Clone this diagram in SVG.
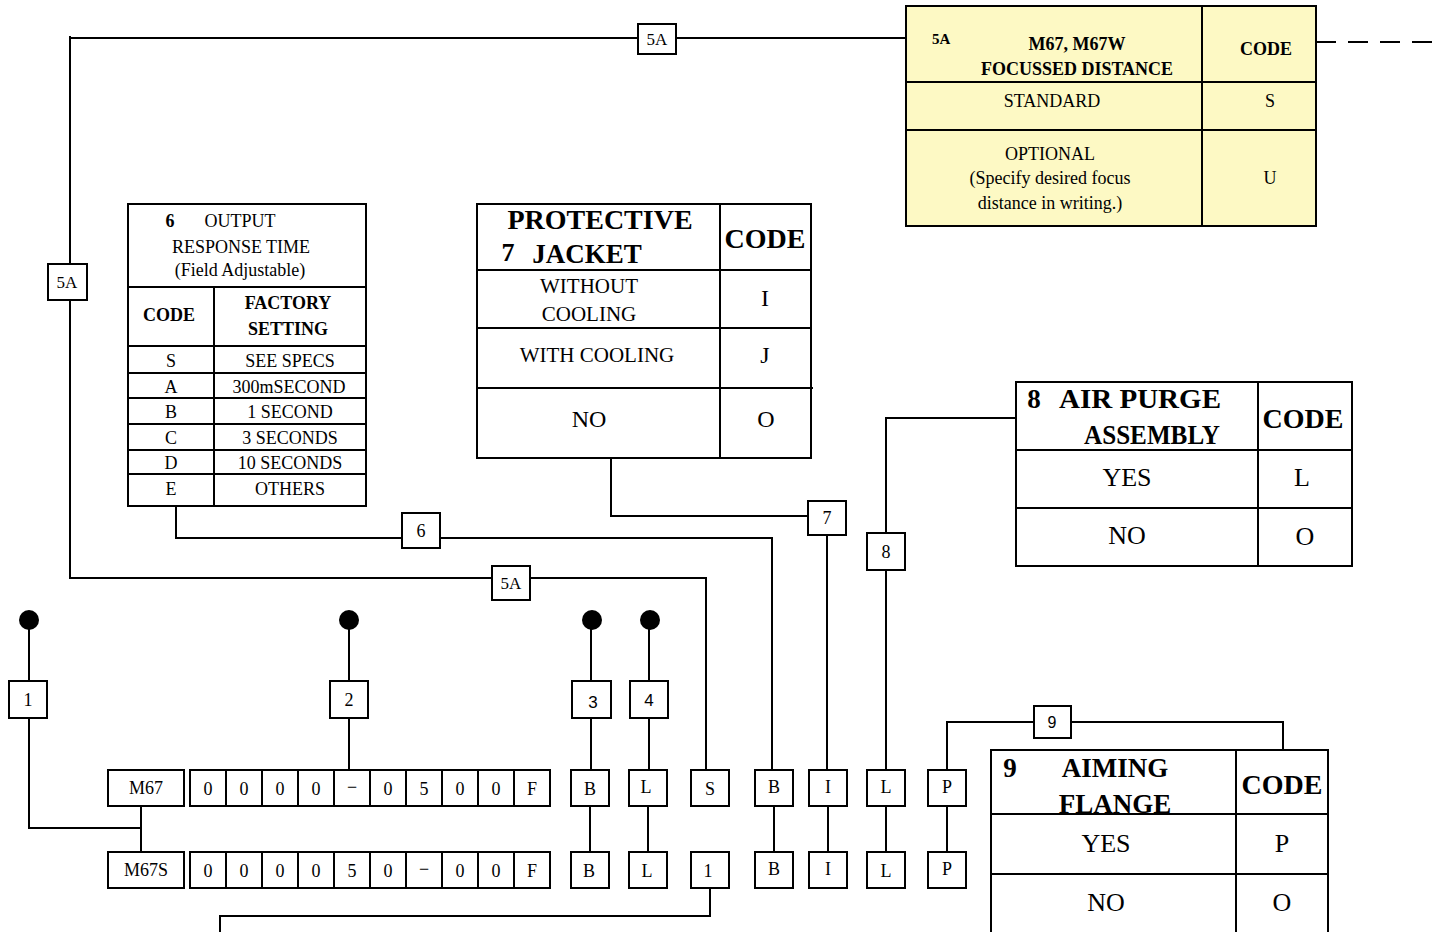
<svg xmlns="http://www.w3.org/2000/svg" width="1444" height="932" viewBox="0 0 1444 932">
<style>
.ln{fill:none;stroke:#000;stroke-width:2}
.bx{fill:#fff;stroke:#000;stroke-width:2}
.tb{fill:#fff;stroke:#000;stroke-width:2}
.yl{fill:#FDF9C4;stroke:#000;stroke-width:2}
.t{font-family:"Liberation Serif","Times New Roman",serif;fill:#000;text-anchor:middle}
.s{font-family:"Liberation Sans",Arial,sans-serif;fill:#000;text-anchor:middle}
.b{font-weight:bold}
.dot{fill:#000}
</style>
<rect width="1444" height="932" fill="#fff"/>
<g id="connectors" class="ln">
<path d="M70 36 V578 H706 V770"/>
<path d="M70 38 H906"/>
<path d="M1316 42 H1444" stroke-dasharray="20 12"/>
<path d="M176 506 V538 H772 V770"/>
<path d="M611 458 V516 H827 V770"/>
<path d="M1016 418 H886 V770"/>
<path d="M29 620 V828 H141"/>
<path d="M141 806 V852"/>
<path d="M349 620 V770"/>
<path d="M591 620 V770"/>
<path d="M649 620 V770"/>
<path d="M590 806 V852 M648 806 V852 M774 806 V852 M828 806 V852 M886 806 V852 M947 806 V852"/>
<path d="M710 888 V916 H220 V932"/>
<path d="M947 770 V722 H1283 V750"/>
</g>
<g id="dots">
<circle class="dot" cx="29" cy="620" r="10"/>
<circle class="dot" cx="349" cy="620" r="10"/>
<circle class="dot" cx="592" cy="620" r="10"/>
<circle class="dot" cx="650" cy="620" r="10"/>
</g>
<g id="table-5A">
<rect class="yl" x="906" y="6" width="410" height="220"/>
<path class="ln" d="M906 82 H1316 M906 130 H1316 M1202 6 V226"/>
<text class="t b" x="932" y="44" font-size="15" style="text-anchor:start">5A</text>
<text class="t b" x="1077" y="50" font-size="18">M67, M67W</text>
<text class="t b" x="1077" y="75" font-size="18">FOCUSSED DISTANCE</text>
<text class="t b" x="1266" y="55" font-size="18">CODE</text>
<text class="t" x="1052" y="107" font-size="18">STANDARD</text>
<text class="t" x="1270" y="107" font-size="18">S</text>
<text class="t" x="1050" y="160" font-size="18">OPTIONAL</text>
<text class="t" x="1050" y="184" font-size="18">(Specify desired focus</text>
<text class="t" x="1050" y="209" font-size="18">distance in writing.)</text>
<text class="t" x="1270" y="184" font-size="18">U</text>
</g>
<g id="table-6">
<rect class="tb" x="128" y="204" width="238" height="302"/>
<path class="ln" d="M128 287 H366 M214 287 V506 M128 346 H366 M128 373 H366 M128 398 H366 M128 424 H366 M128 450 H366 M128 474 H366"/>
<text class="t b" x="170" y="227" font-size="18">6</text>
<text class="t" x="240" y="227" font-size="18">OUTPUT</text>
<text class="t" x="241" y="253" font-size="18">RESPONSE TIME</text>
<text class="t" x="240" y="276" font-size="18">(Field Adjustable)</text>
<text class="t b" x="169" y="321" font-size="18">CODE</text>
<text class="t b" x="288" y="309" font-size="18">FACTORY</text>
<text class="t b" x="288" y="335" font-size="18">SETTING</text>
<text class="t" x="171" y="367" font-size="18">S</text><text class="t" x="290" y="367" font-size="18">SEE SPECS</text>
<text class="t" x="171" y="393" font-size="18">A</text><text class="t" x="289" y="393" font-size="18">300mSECOND</text>
<text class="t" x="171" y="418" font-size="18">B</text><text class="t" x="290" y="418" font-size="18">1 SECOND</text>
<text class="t" x="171" y="444" font-size="18">C</text><text class="t" x="290" y="444" font-size="18">3 SECONDS</text>
<text class="t" x="171" y="469" font-size="18">D</text><text class="t" x="290" y="469" font-size="18">10 SECONDS</text>
<text class="t" x="171" y="495" font-size="18">E</text><text class="t" x="290" y="495" font-size="18">OTHERS</text>
</g>
<g id="table-7">
<rect class="tb" x="477" y="204" width="334" height="254"/>
<path class="ln" d="M477 270 H811 M477 328 H811 M477 388 H813 M720 204 V458"/>
<text class="t b" x="600" y="229" font-size="28">PROTECTIVE</text>
<text class="t b" x="508" y="261" font-size="26">7</text>
<text class="t b" x="587" y="263" font-size="27">JACKET</text>
<text class="t b" x="765" y="248" font-size="28">CODE</text>
<text class="t" x="589" y="293" font-size="21">WITHOUT</text>
<text class="t" x="589" y="321" font-size="21">COOLING</text>
<text class="t" x="765" y="306" font-size="24">I</text>
<text class="t" x="597" y="362" font-size="21">WITH COOLING</text>
<text class="t" x="765" y="363" font-size="24">J</text>
<text class="t" x="589" y="427" font-size="24">NO</text>
<text class="t" x="766" y="427" font-size="24">O</text>
</g>
<g id="table-8">
<rect class="tb" x="1016" y="382" width="336" height="184"/>
<path class="ln" d="M1016 450 H1352 M1016 508 H1352 M1258 382 V566"/>
<text class="t b" x="1034" y="408" font-size="27">8</text>
<text class="t b" x="1140" y="408" font-size="27" textLength="162" lengthAdjust="spacingAndGlyphs">AIR PURGE</text>
<text class="t b" x="1152" y="444" font-size="27" textLength="136" lengthAdjust="spacingAndGlyphs">ASSEMBLY</text>
<text class="t b" x="1303" y="428" font-size="28">CODE</text>
<text class="t" x="1127" y="486" font-size="26">YES</text>
<text class="t" x="1302" y="486" font-size="26">L</text>
<text class="t" x="1127" y="544" font-size="26">NO</text>
<text class="t" x="1305" y="545" font-size="26">O</text>
</g>
<g id="table-9">
<rect class="tb" x="991" y="750" width="337" height="190"/>
<path class="ln" d="M991 814 H1328 M991 874 H1328 M1236 750 V940"/>
<text class="t b" x="1010" y="777" font-size="27">9</text>
<text class="t b" x="1115" y="777" font-size="27">AIMING</text>
<text class="t b" x="1115" y="813" font-size="27">FLANGE</text>
<text class="t b" x="1282" y="794" font-size="28">CODE</text>
<text class="t" x="1106" y="852" font-size="26">YES</text>
<text class="t" x="1282" y="852" font-size="26">P</text>
<text class="t" x="1106" y="911" font-size="26">NO</text>
<text class="t" x="1282" y="911" font-size="26">O</text>
</g>
<g id="tag-5A-top"><rect class="bx" x="638" y="24" width="38" height="30"/><text class="t" x="657" y="45" font-size="17">5A</text></g>
<g id="tag-5A-left"><rect class="bx" x="48" y="264" width="39" height="36"/><text class="t" x="67" y="288" font-size="17">5A</text></g>
<g id="tag-5A-mid"><rect class="bx" x="492" y="566" width="38" height="34"/><text class="t" x="511" y="589" font-size="17">5A</text></g>
<g id="tag-6"><rect class="bx" x="402" y="513" width="38" height="35"/><text class="t" x="421" y="537" font-size="18">6</text></g>
<g id="tag-7"><rect class="bx" x="808" y="501" width="38" height="34"/><text class="t" x="827" y="524" font-size="18">7</text></g>
<g id="tag-8"><rect class="bx" x="867" y="533" width="38" height="37"/><text class="t" x="886" y="558" font-size="18">8</text></g>
<g id="tag-9"><rect class="bx" x="1034" y="706" width="37" height="32"/><text class="s" x="1052" y="728" font-size="16">9</text></g>
<g id="tag-1"><rect class="bx" x="9" y="681" width="38" height="37"/><text class="t" x="28" y="706" font-size="18">1</text></g>
<g id="tag-2"><rect class="bx" x="330" y="681" width="38" height="37"/><text class="t" x="349" y="706" font-size="18">2</text></g>
<g id="tag-3"><rect class="bx" x="572" y="681" width="39" height="37"/><text class="s" x="593" y="708" font-size="17">3</text></g>
<g id="tag-4"><rect class="bx" x="630" y="681" width="38" height="37"/><text class="s" x="649" y="706" font-size="17">4</text></g>
<g id="row1-model"><rect class="bx" x="108" y="770" width="76" height="36"/><text class="t" x="146" y="794" font-size="18">M67</text></g>
<g id="row1-digits">
<rect class="bx" x="190" y="770" width="360" height="36"/>
<path class="ln" d="M226 770 V806 M262 770 V806 M298 770 V806 M334 770 V806 M370 770 V806 M406 770 V806 M442 770 V806 M478 770 V806 M514 770 V806"/>
<text class="t" x="208" y="795" font-size="18">0</text><text class="t" x="244" y="795" font-size="18">0</text><text class="t" x="280" y="795" font-size="18">0</text><text class="t" x="316" y="795" font-size="18">0</text><text class="t" x="352" y="793" font-size="18">−</text><text class="t" x="388" y="795" font-size="18">0</text><text class="t" x="424" y="795" font-size="18">5</text><text class="t" x="460" y="795" font-size="18">0</text><text class="t" x="496" y="795" font-size="18">0</text><text class="t" x="532" y="795" font-size="18">F</text>
</g>
<g id="row2-model"><rect class="bx" x="108" y="852" width="76" height="36"/><text class="t" x="146" y="876" font-size="18">M67S</text></g>
<g id="row2-digits">
<rect class="bx" x="190" y="852" width="360" height="36"/>
<path class="ln" d="M226 852 V888 M262 852 V888 M298 852 V888 M334 852 V888 M370 852 V888 M406 852 V888 M442 852 V888 M478 852 V888 M514 852 V888"/>
<text class="t" x="208" y="877" font-size="18">0</text><text class="t" x="244" y="877" font-size="18">0</text><text class="t" x="280" y="877" font-size="18">0</text><text class="t" x="316" y="877" font-size="18">0</text><text class="t" x="352" y="877" font-size="18">5</text><text class="t" x="388" y="877" font-size="18">0</text><text class="t" x="424" y="875" font-size="18">−</text><text class="t" x="460" y="877" font-size="18">0</text><text class="t" x="496" y="877" font-size="18">0</text><text class="t" x="532" y="877" font-size="18">F</text>
</g>
<g id="row1-codes">
<rect class="bx" x="571" y="770" width="38" height="36"/><text class="t" x="590" y="795" font-size="18">B</text>
<rect class="bx" x="629" y="770" width="38" height="36"/><text class="t" x="646" y="793" font-size="18">L</text>
<rect class="bx" x="691" y="770" width="38" height="36"/><text class="t" x="710" y="795" font-size="18">S</text>
<rect class="bx" x="755" y="770" width="38" height="36"/><text class="t" x="774" y="793" font-size="18">B</text>
<rect class="bx" x="809" y="770" width="38" height="36"/><text class="t" x="828" y="793" font-size="18">I</text>
<rect class="bx" x="867" y="770" width="38" height="36"/><text class="t" x="886" y="793" font-size="18">L</text>
<rect class="bx" x="928" y="770" width="38" height="36"/><text class="t" x="947" y="793" font-size="18">P</text>
</g>
<g id="row2-codes">
<rect class="bx" x="571" y="852" width="38" height="36"/><text class="t" x="589" y="877" font-size="18">B</text>
<rect class="bx" x="629" y="852" width="38" height="36"/><text class="t" x="647" y="877" font-size="18">L</text>
<rect class="bx" x="691" y="852" width="38" height="36"/><text class="t" x="708" y="877" font-size="18">1</text>
<rect class="bx" x="755" y="852" width="38" height="36"/><text class="t" x="774" y="875" font-size="18">B</text>
<rect class="bx" x="809" y="852" width="38" height="36"/><text class="t" x="828" y="875" font-size="18">I</text>
<rect class="bx" x="867" y="852" width="38" height="36"/><text class="t" x="886" y="877" font-size="18">L</text>
<rect class="bx" x="928" y="852" width="38" height="36"/><text class="t" x="947" y="875" font-size="18">P</text>
</g>
</svg>
